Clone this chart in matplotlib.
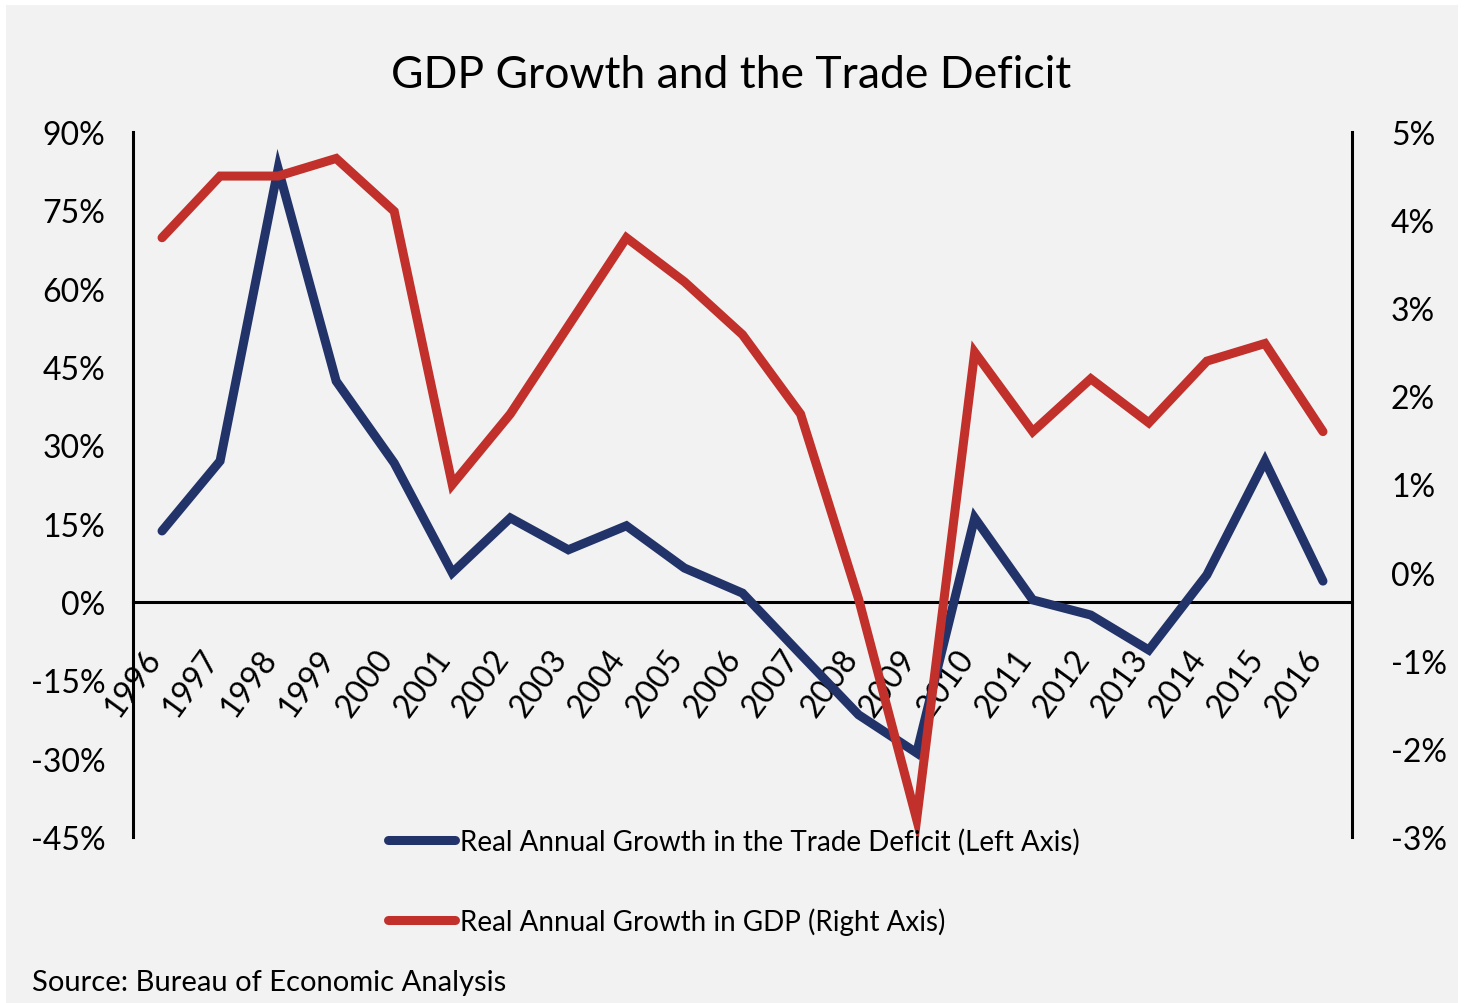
import matplotlib
matplotlib.use("Agg")
import matplotlib.pyplot as plt
from matplotlib.patches import Rectangle
from matplotlib.transforms import ScaledTranslation

plt.rcParams['font.family'] = ['Lato', 'DejaVu Sans']

years = ['1996', '1997', '1998', '1999', '2000', '2001', '2002', '2003', '2004', '2005', '2006',
         '2007', '2008', '2009', '2010', '2011', '2012', '2013', '2014', '2015', '2016']
# real annual growth in the trade deficit, % (left axis)
trade_deficit = [13.6, 27.0, 83.0, 42.3, 26.6, 5.6, 16.1, 10.0, 14.6, 6.5, 1.7,
                 -10.0, -21.6, -28.9, 16.1, 0.4, -2.5, -9.2, 5.2, 27.0, 4.0]
# real annual growth in GDP, % (right axis)
gdp = [3.8, 4.5, 4.5, 4.7, 4.1, 1.0, 1.8, 2.8, 3.8, 3.3, 2.7,
       1.8, -0.3, -2.8, 2.5, 1.6, 2.2, 1.7, 2.4, 2.6, 1.6]
left_ticks = [90, 75, 60, 45, 30, 15, 0, -15, -30, -45]
right_ticks = [5, 4, 3, 2, 1, 0, -1, -2, -3]

blue = '#22336a'
red = '#c1302a'
bg = '#f2f2f2'

W, H = 1465, 1004
fig = plt.figure(figsize=(W / 100, H / 100), dpi=100, facecolor='white')
fig.patches.append(Rectangle((6 / W, 0), (1458 - 6) / W, (H - 6) / H,
                             transform=fig.transFigure, facecolor=bg, edgecolor='none', zorder=-5))

ax = fig.add_axes([133 / W, 1 - 838 / H, (1352 - 133) / W, (838 - 133) / H])
ax.set_facecolor('none')
x = list(range(len(years)))

ax.plot(x, trade_deficit, color=blue, lw=6.5, solid_joinstyle='miter', solid_capstyle='round',
        zorder=3, label='Real Annual Growth in the Trade Deficit (Left Axis)')
ax.set_xlim(-0.5, len(years) - 0.5)
ax.set_ylim(-45, 90)
ax.spines['top'].set_visible(False)
ax.spines['right'].set_visible(False)
ax.spines['bottom'].set_position(('data', 0))
for s in ('left', 'bottom'):
    ax.spines[s].set_linewidth(2.2)
    ax.spines[s].set_color('black')

ax2 = ax.twinx()
ax2.plot(x, gdp, color=red, lw=6.5, solid_joinstyle='miter', solid_capstyle='round',
         zorder=3, label='Real Annual Growth in GDP (Right Axis)')
ax2.set_ylim(-3, 5)
for s in ('top', 'left', 'bottom'):
    ax2.spines[s].set_visible(False)
ax2.spines['right'].set_linewidth(2.2)
ax2.spines['right'].set_color('black')

# ticks after the twin is made, so nothing resets them
ax.tick_params(axis='y', length=0, pad=20, labelsize=23)
ax.tick_params(axis='x', length=0, pad=30, labelsize=23, labelrotation=54)
ax2.tick_params(axis='y', length=0, pad=28, labelsize=23)
ax.set_yticks(left_ticks)
ax.set_yticklabels([f'{t}%' for t in left_ticks])
ax.set_xticks(x)
ax.set_xticklabels(years, rotation=54, ha='right', va='top')
shift = ScaledTranslation(5 / 100, 0, fig.dpi_scale_trans)
for lbl in ax.get_xticklabels():
    lbl.set_transform(lbl.get_transform() + shift)
ax2.set_yticks(right_ticks)
ax2.set_yticklabels([f'{t}%' for t in right_ticks])

h1, l1 = ax.get_legend_handles_labels()
h2, l2 = ax2.get_legend_handles_labels()
leg = fig.legend(h1 + h2, l1 + l2, loc='center left', bbox_to_anchor=(388 / W, 1 - 882 / H),
                 frameon=False, fontsize=20, borderpad=0, borderaxespad=0,
                 handlelength=2.4, handletextpad=0.2, labelspacing=1.9)

fig.text(731 / W, 1 - 75 / H, 'GDP Growth and the Trade Deficit', ha='center', va='center', fontsize=32)
fig.text(32 / W, 1 - 983 / H, 'Source: Bureau of Economic Analysis', ha='left', va='center', fontsize=21)

fig.savefig('out.png', dpi=100, facecolor=fig.get_facecolor())
